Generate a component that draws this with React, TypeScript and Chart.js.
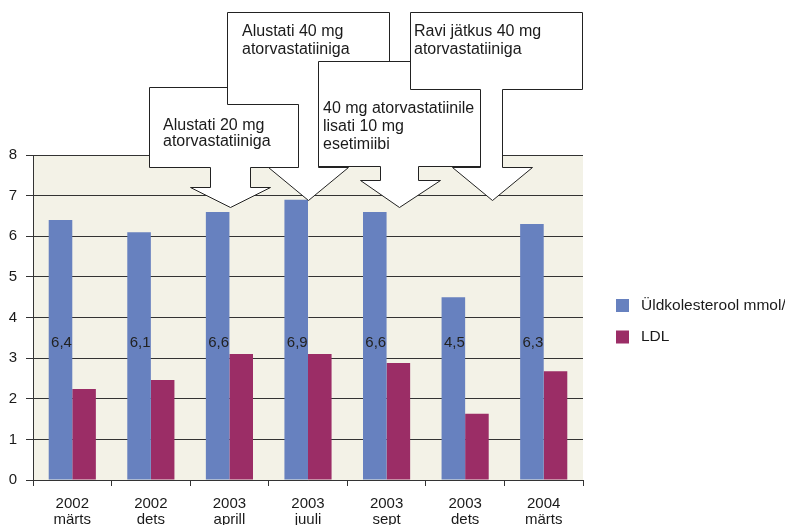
import React, { useEffect, useRef } from "react";
import { Chart, registerables } from "chart.js";

Chart.register(...registerables);

// ---- data ----
const categories: string[][] = [
  ["2002", "märts"],
  ["2002", "dets"],
  ["2003", "aprill"],
  ["2003", "juuli"],
  ["2003", "sept"],
  ["2003", "dets"],
  ["2004", "märts"],
];
const totalCholesterol = [6.4, 6.1, 6.6, 6.9, 6.6, 4.5, 6.3];
const ldl = [2.24, 2.46, 3.1, 3.1, 2.88, 1.63, 2.68];
const seriesNames = ["Üldkolesterool mmol/l", "LDL"];
const yMin = 0;
const yMax = 8;
const yStep = 1;

const calloutTexts: string[][] = [
  ["Alustati 20 mg", "atorvastatiiniga"],
  ["Alustati 40 mg", "atorvastatiiniga"],
  ["40 mg atorvastatiinile", "lisati 10 mg", "esetimiibi"],
  ["Ravi jätkus 40 mg", "atorvastatiiniga"],
];

// ---- styling / layout (annotation geometry, canvas px) ----
const FONT = "'Liberation Sans', Arial, Helvetica, sans-serif";
const BLUE = "#6781BF";
const PLUM = "#9B2D66";
const PLOT_BG = "#F3F2E7";
const LINE = "#333333";
const TEXT = "#1a1a1a";
const CANVAS_W = 800;
const CANVAS_H = 517;

type CalloutGeom = {
  L: number; T: number; R: number; B: number;
  sL: number; sR: number; headY: number; hL: number; hR: number;
  tipX: number; tipY: number; tx: number; ty: number; lh: number;
};
const calloutGeoms: CalloutGeom[] = [
  { L: 141, T: 79, R: 290, B: 159, sL: 202, sR: 242, headY: 179, hL: 182, hR: 262, tipX: 222, tipY: 199, tx: 155, ty: 122, lh: 16 },
  { L: 219, T: 4, R: 381, B: 96, sL: 290, sR: 310, headY: 159, hL: 260, hR: 340, tipX: 300, tipY: 192, tx: 234, ty: 28, lh: 18 },
  { L: 310, T: 53, R: 477, B: 158, sL: 372, sR: 410, headY: 172, hL: 352, hR: 432, tipX: 391, tipY: 199, tx: 315, ty: 105, lh: 18 },
  { L: 402, T: 4, R: 574, B: 81, sL: 472, sR: 494, headY: 159, hL: 444, hR: 524, tipX: 484, tipY: 192, tx: 406, ty: 28, lh: 18 },
];

const bgPlugin = {
  id: "plotBg",
  beforeDraw(chart: any) {
    const { ctx, chartArea } = chart;
    ctx.save();
    ctx.fillStyle = PLOT_BG;
    ctx.fillRect(chartArea.left, chartArea.top, chartArea.right - chartArea.left, chartArea.bottom - chartArea.top);
    ctx.restore();
  },
};

const overlayPlugin = {
  id: "overlay",
  afterDraw(chart: any) {
    const { ctx, chartArea } = chart;
    const yScale = chart.scales.y;
    ctx.save();

    // value labels for total cholesterol
    const meta = chart.getDatasetMeta(0);
    ctx.font = `15px ${FONT}`;
    ctx.fillStyle = "#222";
    ctx.textAlign = "center";
    ctx.textBaseline = "middle";
    const labelY = yScale.getPixelForValue(3.37);
    meta.data.forEach((bar: any, i: number) => {
      const v = chart.data.datasets[0].data[i] as number;
      ctx.fillText(v.toFixed(1).replace(".", ","), bar.x + 1, labelY);
    });

    // legend
    const midY = (chartArea.top + chartArea.bottom) / 2;
    ctx.font = `15.5px ${FONT}`;
    ctx.textAlign = "left";
    chart.data.datasets.forEach((ds: any, i: number) => {
      const cy = midY - 12 + i * 31.5;
      const bx = chartArea.right + 33;
      ctx.fillStyle = ds.backgroundColor;
      ctx.fillRect(bx, cy - 6.5, 13, 13);
      ctx.fillStyle = TEXT;
      ctx.fillText(ds.label, bx + 25, cy);
    });

    // callouts
    ctx.lineWidth = 1;
    ctx.strokeStyle = "#222";
    calloutGeoms.forEach((g, k) => {
      const p = (v: number) => Math.round(v) + 0.5;
      ctx.beginPath();
      ctx.moveTo(p(g.L), p(g.T));
      ctx.lineTo(p(g.R), p(g.T));
      ctx.lineTo(p(g.R), p(g.B));
      ctx.lineTo(p(g.sR), p(g.B));
      ctx.lineTo(p(g.sR), p(g.headY));
      ctx.lineTo(p(g.hR), p(g.headY));
      ctx.lineTo(g.tipX + 0.5, g.tipY + 0.5);
      ctx.lineTo(p(g.hL), p(g.headY));
      ctx.lineTo(p(g.sL), p(g.headY));
      ctx.lineTo(p(g.sL), p(g.B));
      ctx.lineTo(p(g.L), p(g.B));
      ctx.closePath();
      ctx.fillStyle = "#ffffff";
      ctx.fill();
      ctx.stroke();
      ctx.fillStyle = TEXT;
      ctx.font = `16px ${FONT}`;
      ctx.textAlign = "left";
      ctx.textBaseline = "alphabetic";
      calloutTexts[k].forEach((line, j) => {
        ctx.fillText(line, g.tx, g.ty + j * g.lh);
      });
    });

    ctx.restore();
  },
};

export default function App() {
  const ref = useRef<HTMLCanvasElement | null>(null);

  useEffect(() => {
    document.body.style.overflow = "hidden";
    document.documentElement.style.overflow = "hidden";
    const canvas = ref.current;
    if (!canvas) return;
    const chart = new Chart(canvas, {
      type: "bar",
      data: {
        labels: categories,
        datasets: [
          {
            label: seriesNames[0],
            data: totalCholesterol,
            backgroundColor: BLUE,
            borderWidth: 0,
            categoryPercentage: 0.6,
            barPercentage: 1.0,
          },
          {
            label: seriesNames[1],
            data: ldl,
            backgroundColor: PLUM,
            borderWidth: 0,
            categoryPercentage: 0.6,
            barPercentage: 1.0,
          },
        ],
      },
      options: {
        responsive: false,
        animation: false,
        devicePixelRatio: 1,
        layout: { padding: { top: 147, right: CANVAS_W - 575, left: 0, bottom: 0 } },
        plugins: {
          legend: { display: false },
          tooltip: { enabled: false },
        },
        scales: {
          x: {
            grid: {
              display: true,
              drawOnChartArea: false,
              drawTicks: true,
              tickLength: 6,
              color: LINE,
              offset: true,
            },
            border: { display: true, color: LINE, width: 1 },
            ticks: {
              color: TEXT,
              padding: 10,
              font: { family: FONT, size: 15, lineHeight: 1.07 },
              maxRotation: 0,
              autoSkip: false,
            },
            afterFit: (s: any) => {
              s.height = 45;
            },
          },
          y: {
            min: yMin,
            max: yMax,
            grid: {
              color: LINE,
              tickLength: 7,
              drawTicks: true,
            },
            border: { display: true, color: LINE, width: 1 },
            ticks: {
              stepSize: yStep,
              color: TEXT,
              padding: 9,
              font: { family: FONT, size: 15 },
            },
            afterFit: (s: any) => {
              s.width = 25;
            },
          },
        },
      },
      plugins: [bgPlugin, overlayPlugin],
    });
    return () => chart.destroy();
  }, []);

  return (
    <div style={{ width: CANVAS_W, height: CANVAS_H }}>
      <canvas ref={ref} width={CANVAS_W} height={CANVAS_H} style={{ display: "block" }} />
    </div>
  );
}
